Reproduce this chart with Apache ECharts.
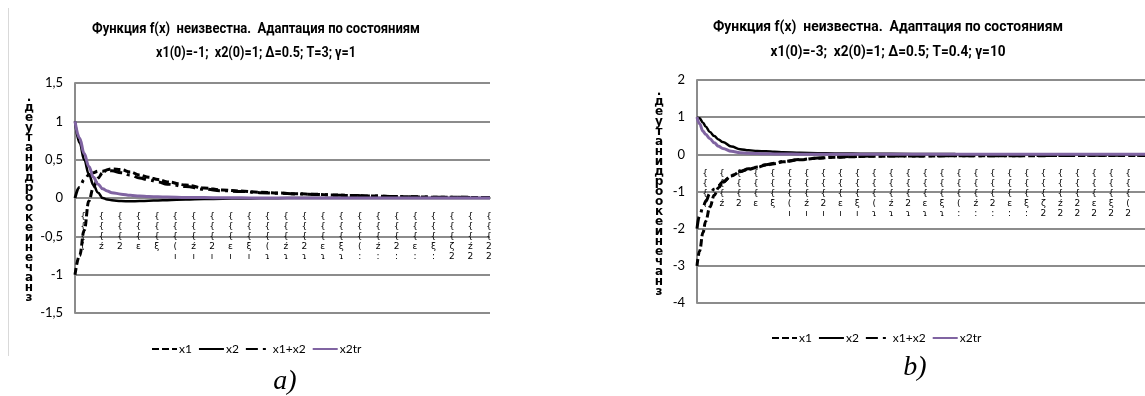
<!DOCTYPE html>
<html>
<head>
<meta charset="utf-8">
<script src="https://cdn.jsdelivr.net/npm/echarts@6/dist/echarts.min.js"></script>
<style>
  html, body { margin: 0; padding: 0; background: #fff; overflow: hidden; }
  #chart { width: 1145px; height: 396px; }
</style>
</head>
<body>
<div id="chart"></div>
<script>
// ---- Panel a): x1(0)=-1; x2(0)=1; T=3; gamma=1 ----
const tA     = [0, 0.05, 0.1, 0.15, 0.2, 0.25, 0.3, 0.35, 0.4, 0.5, 0.6, 0.7, 0.8, 0.9, 1.0, 1.2, 1.4, 1.6, 1.8, 2.0, 2.2, 2.4, 2.6, 2.8, 3.0, 3.2, 3.5, 4.0, 4.5];
const x1A    = [-1.0, -0.75, -0.42, -0.04, 0.14, 0.26, 0.33, 0.37, 0.38, 0.37, 0.34, 0.30, 0.27, 0.24, 0.21, 0.17, 0.13, 0.105, 0.09, 0.075, 0.065, 0.055, 0.048, 0.04, 0.033, 0.027, 0.018, 0.01, 0.005];
const x2A    = [1.0, 0.72, 0.5, 0.31, 0.17, 0.07, 0.0, -0.02, -0.03, -0.04, -0.042, -0.04, -0.036, -0.032, -0.028, -0.02, -0.014, -0.009, -0.006, -0.004, -0.002, -0.001, 0, 0, 0, 0, 0, 0, 0];
const x12A   = [0, 0.14, 0.24, 0.3, 0.33, 0.35, 0.35, 0.36, 0.355, 0.33, 0.3, 0.26, 0.235, 0.21, 0.18, 0.15, 0.115, 0.095, 0.085, 0.07, 0.062, 0.053, 0.047, 0.04, 0.033, 0.027, 0.018, 0.01, 0.005];
const x2trA  = [1.0, 0.78, 0.58, 0.41, 0.27, 0.18, 0.12, 0.09, 0.07, 0.05, 0.035, 0.026, 0.02, 0.015, 0.012, 0.007, 0.005, 0.003, 0.002, 0.001, 0, 0, 0, 0, 0, 0, 0, 0, 0];

// ---- Panel b): x1(0)=-3; x2(0)=1; T=0.4; gamma=10 ----
const tB     = [0, 0.03, 0.07, 0.1, 0.15, 0.2, 0.25, 0.3, 0.4, 0.5, 0.6, 0.7, 0.8, 0.9, 1.0, 1.2, 1.4, 1.6, 1.8, 2.0, 2.5, 3.0, 3.5, 4.0, 4.5, 5.0, 5.2];
const x1B    = [-3.0, -2.6, -2.1, -1.8, -1.42, -1.1, -0.9, -0.75, -0.58, -0.47, -0.4, -0.35, -0.29, -0.25, -0.2, -0.145, -0.105, -0.08, -0.065, -0.05, -0.045, -0.04, -0.04, -0.035, -0.03, -0.03, -0.03];
const x2B    = [1.0, 0.97, 0.85, 0.75, 0.6, 0.49, 0.4, 0.33, 0.21, 0.14, 0.11, 0.09, 0.08, 0.07, 0.055, 0.04, 0.032, 0.025, 0.02, 0.016, 0.01, 0.006, 0.004, 0.002, 0.001, 0, 0];
const x12B   = [-2.0, -1.65, -1.42, -1.27, -1.05, -0.93, -0.84, -0.74, -0.57, -0.46, -0.39, -0.34, -0.28, -0.24, -0.19, -0.14, -0.1, -0.075, -0.06, -0.048, -0.043, -0.038, -0.037, -0.033, -0.028, -0.028, -0.028];
const x2trB  = [1.0, 0.82, 0.62, 0.54, 0.42, 0.31, 0.22, 0.16, 0.08, 0.045, 0.03, 0.02, 0.015, 0.01, 0.008, 0.005, 0.003, 0.002, 0.001, 0, 0, 0, 0, 0, 0, 0, 0];

// Time-axis labels (every 0.2): stacked glyph rows under the braces
const labelMid = ["(", "ź", "2", "ɛ", "ξ", "(", "ź", "2", "ɛ", "ξ", "(", "ź", "2", "ɛ", "ξ", "(", "ź", "2", "ɛ", "ξ", "ζ", "ź", "2", "ɛ", "ξ", "("];
const labelLow = ["", "", "", "", "", "ı", "ı", "ı", "ı", "ı", "ɿ", "ɿ", "ɿ", "ɿ", "ɿ", ":", ":", ":", ":", ":", "2", "2", "2", "2", "2", "2"];

// Vertical axis caption, one letter per row
const yCaption = [".", "д", "е", "у", "т", "а", "н", "и", "д", "р", "о", "о", "к", "е", "и", "н", "е", "ч", "а", "н", "з"];

const seriesNames = ["x1", "x2", "x1+x2", "x2tr"];
const titleA = ["Функция f(x)  неизвестна.  Адаптация по состояниям", "x1(0)=-1;  x2(0)=1; Δ=0.5; T=3; γ=1"];
const titleB = ["Функция f(x)  неизвестна.  Адаптация по состояниям", "x1(0)=-3;  x2(0)=1; Δ=0.5; T=0.4; γ=10"];

const GRID_GRAY = '#8c8c8c';
const PURPLE = '#8064a2';
const TITLE_FONT = 'bold 14px Roboto';

// plot boxes: [left, top, width, height]
const boxA = [75, 83, 415, 230];
const boxB = [697, 80, 465.4, 223];
const LABEL_SHIFT = 8;

function zip(t, v) { return t.map((x, i) => [x, v[i]]); }

function tickLabel(value) {
  const k = Math.round(value / 0.2);
  if (Math.abs(value - k * 0.2) > 1e-6 || k >= labelMid.length) return '';
  return ['{', '{', '{', labelMid[k], labelLow[k]].join('\n');
}

// main time axis (line at zero, no labels)
function xAxisMain(gridIndex, max) {
  return {
    type: 'value', gridIndex, min: 0, max, interval: 0.2,
    axisLine: { show: true, onZero: true, lineStyle: { color: GRID_GRAY, width: 2 } },
    axisTick: { show: false }, splitLine: { show: false }, axisLabel: { show: false }
  };
}

// label-only time axis on a grid whose bottom edge sits on the zero line
function xAxisLabels(gridIndex, max) {
  return {
    type: 'value', gridIndex, min: 0, max, interval: 0.2,
    axisLine: { show: false }, axisTick: { show: false }, splitLine: { show: false },
    axisLabel: {
      formatter: tickLabel, showMinLabel: true, showMaxLabel: false, hideOverlap: false, margin: 14,
      fontFamily: 'DejaVu Sans', fontSize: 9, lineHeight: 10, color: '#000', verticalAlign: 'top'
    }
  };
}

function yAxisMain(gridIndex, min, max, interval, gap) {
  return {
    type: 'value', gridIndex, min, max, interval,
    axisLine: { show: true, lineStyle: { color: GRID_GRAY, width: 2 } },
    axisTick: { show: false },
    splitLine: { show: true, lineStyle: { color: GRID_GRAY, width: 2 } },
    axisLabel: {
      formatter: v => String(v).replace('.', ','),
      fontFamily: 'Lato', fontSize: 13, color: '#000', margin: 12
    },
    name: yCaption.join('\n'),
    nameLocation: 'middle', nameRotate: 0, nameGap: gap,
    nameTextStyle: {
      fontFamily: 'DejaVu Sans', fontWeight: 'bold', fontSize: 12, lineHeight: 10,
      color: '#000', align: 'center', verticalAlign: 'middle'
    }
  };
}

function yAxisHidden(gridIndex) {
  return { type: 'value', gridIndex, min: 0, max: 1, show: false };
}

function seriesFor(idx, t, x1, x2, x12, x2tr) {
  const base = { type: 'line', xAxisIndex: idx, yAxisIndex: idx, symbol: 'none', smooth: 0.4, smoothMonotone: 'x', silent: true };
  return [
    Object.assign({}, base, { name: seriesNames[0], data: zip(t, x1), lineStyle: { color: '#000', width: 3, type: [7, 3] }, itemStyle: { color: '#000' } }),
    Object.assign({}, base, { name: seriesNames[1], data: zip(t, x2), lineStyle: { color: '#000', width: 2.5, type: 'solid' }, itemStyle: { color: '#000' } }),
    Object.assign({}, base, { name: seriesNames[2], data: zip(t, x12), lineStyle: { color: '#000', width: 3, type: [12, 5, 3, 5] }, itemStyle: { color: '#000' } }),
    Object.assign({}, base, { name: seriesNames[3], data: zip(t, x2tr), lineStyle: { color: PURPLE, width: 3, type: 'solid' }, itemStyle: { color: PURPLE } })
  ];
}

// condensed bold title lines: each line squeezed horizontally to its set width
const measureCtx = document.createElement('canvas').getContext('2d');
function titleText(lines, cx, ys, widths) {
  measureCtx.font = TITLE_FONT;
  return lines.map((s, i) => {
    const w = measureCtx.measureText(s).width || widths[i];
    return {
      type: 'text', x: cx, y: ys[i], silent: true, scaleX: widths[i] / w,
      style: { text: s, font: TITLE_FONT, fill: '#000', textAlign: 'center', textVerticalAlign: 'middle' }
    };
  });
}

function legendFor(left, top) {
  return {
    data: seriesNames, left, top, orient: 'horizontal',
    itemWidth: 25, itemHeight: 10, itemGap: 6,
    selectedMode: false,
    itemStyle: { opacity: 0, borderWidth: 0 },
    textStyle: { fontFamily: 'Lato', fontSize: 12, color: '#000', padding: [0, 0, 0, -3] }
  };
}

const chart = echarts.init(document.getElementById('chart'), null, { renderer: 'canvas' });
chart.setOption({
  animation: false,
  backgroundColor: '#fff',
  grid: [
    { left: boxA[0], top: boxA[1], width: boxA[2], height: boxA[3], containLabel: false },
    { left: boxB[0], top: boxB[1], width: boxB[2], height: boxB[3], containLabel: false },
    // label grids end at the zero level of each panel (1.5/3 and 2/6 of the height)
    { left: boxA[0] + LABEL_SHIFT, top: boxA[1], width: boxA[2], height: boxA[3] * 0.5, containLabel: false },
    { left: boxB[0] + LABEL_SHIFT, top: boxB[1], width: boxB[2], height: boxB[3] * (2 / 6), containLabel: false }
  ],
  xAxis: [xAxisMain(0, 4.5), xAxisMain(1, 5.2), xAxisLabels(2, 4.5), xAxisLabels(3, 5.2)],
  yAxis: [yAxisMain(0, -1.5, 1.5, 0.5, 46), yAxisMain(1, -4, 2, 1, 38), yAxisHidden(2), yAxisHidden(3)],
  legend: [legendFor(146, 338), legendFor(766, 327)],
  series: [].concat(
    seriesFor(0, tA, x1A, x2A, x12A, x2trA),
    seriesFor(1, tB, x1B, x2B, x12B, x2trB)
  ),
  graphic: [].concat(
    [{ type: 'line', silent: true, shape: { x1: 8.5, y1: 8, x2: 8.5, y2: 356 }, style: { stroke: '#d9d9d9', lineWidth: 1 } }],
    titleText(titleA, 256, [29, 53], [328, 200]),
    titleText(titleB, 888, [27, 52], [350, 235]),
    [
      { type: 'text', x: 285, y: 382, silent: true, style: { text: 'a)', font: 'italic 28px "Liberation Serif"', fill: '#000', textAlign: 'center', textVerticalAlign: 'middle' } },
      { type: 'text', x: 915, y: 368, silent: true, style: { text: 'b)', font: 'italic 28px "Liberation Serif"', fill: '#000', textAlign: 'center', textVerticalAlign: 'middle' } }
    ]
  )
});
</script>
</body>
</html>
